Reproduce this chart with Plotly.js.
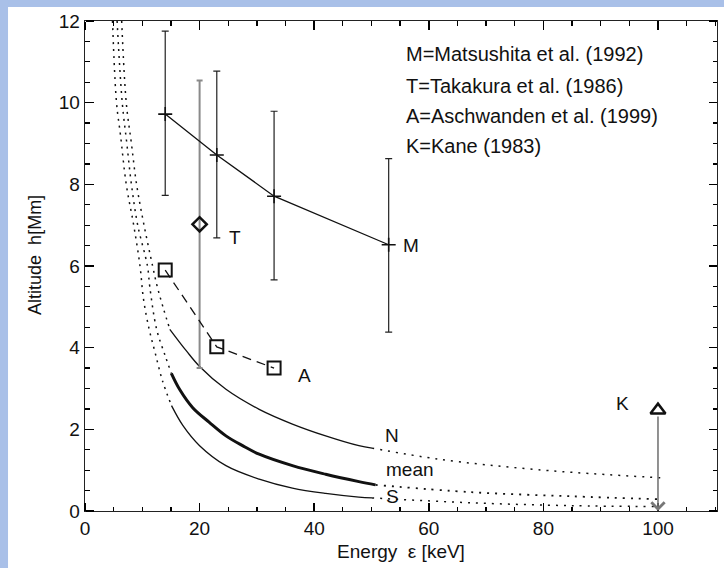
<!DOCTYPE html>
<html>
<head>
<meta charset="utf-8">
<script src="https://cdn.plot.ly/plotly-3.0.1.min.js"></script>
<style>html,body{margin:0;padding:0;background:#fff;}#chart{width:724px;height:568px;}</style>
</head>
<body>
<div id="chart"></div>
<script>
// ---- data ----
const energyM = [14, 23, 33, 53];
const altM = [9.72, 8.72, 7.71, 6.52];
const altMHigh = [11.75, 10.77, 9.79, 8.63];
const altMLow = [7.73, 6.69, 5.66, 4.38];

const energyT = [20];
const altT = [7.02];
const altTHigh = [10.54];
const altTLow = [3.5];

const energyA = [14, 23, 33];
const altA = [5.9, 4.02, 3.5];

const energyK = [100];
const altK = [2.47];

// N curve
const nLowE = [6.4, 7.2, 8.1, 9.0, 10.3, 11.8, 12.6, 13.6, 14.8];
const nLowH = [12.0, 10.0, 9.0, 8.0, 7.0, 6.0, 5.5, 5.0, 4.45];
const nMidE = [14.8, 17.7, 20.0, 24.6, 30.4, 36.2, 42.0, 47.8, 50.1];
const nMidH = [4.45, 3.92, 3.54, 2.98, 2.49, 2.13, 1.84, 1.60, 1.54];
const nHighE = [50.1, 61.7, 79.1, 100.9];
const nHighH = [1.54, 1.27, 1.01, 0.81];

// mean curve
const mLowE = [5.6, 6.5, 7.3, 8.1, 9.2, 10.9, 11.3, 12.5, 14.0, 15.07];
const mLowH = [12.0, 10.0, 9.0, 8.0, 7.0, 6.0, 5.5, 4.45, 3.8, 3.37];
const mMidE = [15.07, 16.5, 18.8, 21.7, 24.6, 27.5, 30.4, 36.2, 42.0, 47.8, 50.7];
const mMidH = [3.37, 2.98, 2.53, 2.17, 1.84, 1.60, 1.39, 1.11, 0.90, 0.72, 0.64];
const mHighE = [50.7, 67.5, 84.9, 100.0];
const mHighH = [0.64, 0.46, 0.36, 0.29];

// S curve
const sLowE = [4.8, 5.5, 6.2, 7.2, 8.5, 9.6, 10.2, 11.2, 12.2, 13.5, 15.1];
const sLowH = [12.0, 10.0, 9.2, 8.0, 7.0, 6.0, 5.2, 4.45, 3.9, 3.2, 2.58];
const sMidE = [15.1, 17.1, 20.0, 24.6, 30.4, 36.2, 42.0, 47.8, 50.1];
const sMidH = [2.58, 2.09, 1.60, 1.11, 0.78, 0.56, 0.43, 0.34, 0.32];
const sHighE = [50.1, 67.5, 84.9, 99.4];
const sHighH = [0.32, 0.20, 0.13, 0.11];

const refLines = [
  'M=Matsushita et al. (1992)',
  'T=Takakura et al. (1986)',
  'A=Aschwanden et al. (1999)',
  'K=Kane (1983)'
];

// ---- chart ----
const FONT = 'Liberation Sans, Arial, Helvetica, sans-serif';
const INK = '#111';
const lowDash = '2px,5px';
const highDash = '2px,6px';

function curve(x, y, w, dash) {
  return {x: x, y: y, type: 'scatter', mode: 'lines', hoverinfo: 'skip',
    line: {color: INK, width: w, dash: dash, shape: 'spline', smoothing: 1}};
}

const traces = [
  curve(nLowE, nLowH, 1.5, lowDash),
  curve(nMidE, nMidH, 1.3, 'solid'),
  curve(nHighE, nHighH, 1.5, highDash),
  curve(mLowE, mLowH, 1.5, lowDash),
  curve(mMidE, mMidH, 3, 'solid'),
  curve(mHighE, mHighH, 1.8, highDash),
  curve(sLowE, sLowH, 1.5, lowDash),
  curve(sMidE, sMidH, 1.3, 'solid'),
  curve(sHighE, sHighH, 1.5, highDash),
  {x: energyT, y: altT, type: 'scatter', mode: 'markers',
    marker: {symbol: 'diamond-open', size: 11, color: INK, line: {width: 2.5, color: INK}},
    error_y: {type: 'data', symmetric: false,
      array: altTHigh.map((v, i) => v - altT[i]), arrayminus: altT.map((v, i) => v - altTLow[i]),
      color: '#8a8a8a', thickness: 2, width: 3}},
  {x: energyM, y: altM, type: 'scatter', mode: 'lines+markers', line: {color: INK, width: 1.3},
    marker: {symbol: 'cross-thin-open', size: 10, color: INK, line: {width: 1.6, color: INK}},
    error_y: {type: 'data', symmetric: false,
      array: altMHigh.map((v, i) => v - altM[i]), arrayminus: altM.map((v, i) => v - altMLow[i]),
      color: '#222', thickness: 1.2, width: 3.5}},
  {x: energyA, y: altA, type: 'scatter', mode: 'lines+markers', line: {color: INK, width: 1.3, dash: '9px,6px'},
    marker: {symbol: 'square-open', size: 13, color: INK, line: {width: 2, color: INK}}},
  {x: energyK, y: altK, type: 'scatter', mode: 'markers',
    marker: {symbol: 'triangle-up-open', size: 13, color: INK, line: {width: 2.5, color: INK}}},
  // empty traces so the tick-only frame axes get subplots
  {x: [null], y: [null], type: 'scatter', mode: 'markers', xaxis: 'x3', yaxis: 'y3', hoverinfo: 'skip'},
  {x: [null], y: [null], type: 'scatter', mode: 'markers', xaxis: 'x4', yaxis: 'y4', hoverinfo: 'skip'}
];

const annotations = [
  {x: energyK[0], y: 0, ax: energyK[0], ay: altK[0] - 0.12, xref: 'x', yref: 'y', axref: 'x', ayref: 'y',
   text: '', showarrow: true, arrowhead: 4, arrowsize: 1.6, arrowwidth: 1.6, arrowcolor: '#777', standoff: 0},
  {x: 26.2, y: 6.69, text: 'T'},
  {x: 56.9, y: 6.5, text: 'M'},
  {x: 38.3, y: 3.33, text: 'A'},
  {x: 93.8, y: 2.64, text: 'K'},
  {x: 53.6, y: 1.86, text: 'N'},
  {x: 56.8, y: 1.02, text: 'mean'},
  {x: 53.6, y: 0.35, text: 'S'}
].map(a => Object.assign({xref: 'x', yref: 'y', showarrow: false, font: {family: FONT, size: 19, color: INK}}, a));

const legendY = [11.18, 10.42, 9.67, 8.93];
refLines.forEach((t, i) => {
  annotations.push({x: 55.6, y: legendY[i], xref: 'x', yref: 'y', xanchor: 'left', yanchor: 'middle',
    text: t, showarrow: false, font: {family: FONT, size: 20, color: INK}});
});
annotations.push({x: -0.097, y: 0.522, xref: 'paper', yref: 'paper', textangle: -90,
  text: 'Altitude  h[Mm]', showarrow: false, font: {family: FONT, size: 18, color: INK}});

const xRange = [0, 110.3];
const yRange = [0, 12];
const axisCommon = {
  showgrid: false, zeroline: false, showline: true, linecolor: '#222', linewidth: 1.4,
  mirror: 'allticks', ticks: 'inside', ticklen: 8, tickwidth: 1.6, tickcolor: '#000',
  layer: 'above traces',
  tickfont: {family: FONT, size: 19, color: INK}
};
const frameCommon = {
  showgrid: false, zeroline: false, showline: false, showticklabels: false,
  ticks: 'outside', ticklen: 8, tickwidth: 1.6, tickcolor: '#000', anchor: 'free', layer: 'above traces'
};
const xMinorIn = {dtick: 5, ticks: 'inside', ticklen: 4, tickwidth: 1.3, tickcolor: '#000'};
const yMinorIn = {dtick: 0.5, ticks: 'inside', ticklen: 4, tickwidth: 1.3, tickcolor: '#000'};
const xMinorOut = {dtick: 5, ticks: 'outside', ticklen: 4, tickwidth: 1.3, tickcolor: '#000'};
const yMinorOut = {dtick: 0.5, ticks: 'outside', ticklen: 4, tickwidth: 1.3, tickcolor: '#000'};

const layout = {
  width: 724, height: 568,
  margin: {l: 85, r: 7, t: 21, b: 57},
  paper_bgcolor: '#ffffff',
  plot_bgcolor: '#ffffff',
  showlegend: false,
  xaxis: Object.assign({}, axisCommon, {
    range: xRange, tick0: 0, dtick: 20, minor: xMinorIn,
    title: {text: 'Energy  ε [keV]', font: {family: FONT, size: 19, color: INK}, standoff: 6}
  }),
  yaxis: Object.assign({}, axisCommon, {
    range: yRange, tick0: 0, dtick: 2, minor: yMinorIn
  }),
  // bottom edge, ticks pointing up
  xaxis3: Object.assign({}, frameCommon, {overlaying: 'x', side: 'top', position: 0,
    range: xRange, tick0: 0, dtick: 20, minor: xMinorOut}),
  // left edge, ticks pointing right
  yaxis3: Object.assign({}, frameCommon, {overlaying: 'y', side: 'right', position: 0,
    range: yRange, tick0: 0, dtick: 2, minor: yMinorOut}),
  // top edge, ticks pointing down
  xaxis4: Object.assign({}, frameCommon, {overlaying: 'x', side: 'bottom', position: 1,
    range: xRange, tick0: 0, dtick: 20, minor: xMinorOut}),
  // right edge, ticks pointing left
  yaxis4: Object.assign({}, frameCommon, {overlaying: 'y', side: 'left', position: 1,
    range: yRange, tick0: 0, dtick: 2, minor: yMinorOut}),
  shapes: [
    {type: 'rect', xref: 'paper', yref: 'paper', layer: 'below',
     x0: -0.1345, x1: 1.02, y0: 1.0286, y1: 1.05, fillcolor: '#a9c0e8', line: {width: 0}},
    {type: 'rect', xref: 'paper', yref: 'paper', layer: 'below',
     x0: -0.1345, x1: -0.1218, y0: -0.13, y1: 1.05, fillcolor: '#a9c0e8', line: {width: 0}}
  ],
  annotations: annotations
};

Plotly.newPlot('chart', traces, layout, {staticPlot: true});
</script>
</body>
</html>
